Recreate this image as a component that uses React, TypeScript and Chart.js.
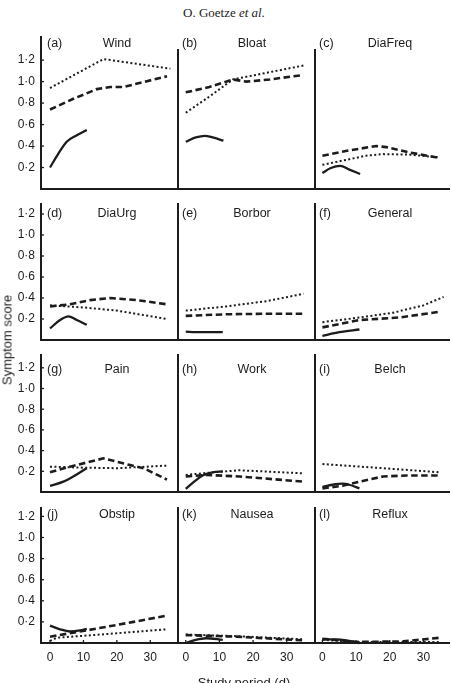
import React, { useEffect, useRef } from "react";
import { Chart, registerables } from "chart.js";

Chart.register(...registerables);

// ---------- labels & ticks ----------
const panelLetters = ["(a)", "(b)", "(c)", "(d)", "(e)", "(f)", "(g)", "(h)", "(i)", "(j)", "(k)", "(l)"];
const panelNames = ["Wind", "Bloat", "DiaFreq", "DiaUrg", "Borbor", "General", "Pain", "Work", "Belch", "Obstip", "Nausea", "Reflux"];
const yTickValues = [0.2, 0.4, 0.6, 0.8, 1.0, 1.2];
const yTickLabels = ["0·2", "0·4", "0·6", "0·8", "1·0", "1·2"];
const xTickValues = [0, 10, 20, 30];
const xTickLabels = ["0", "10", "20", "30"];
const yAxisTitle = "Symptom score";
const xAxisTitle = "Study period (d)";

// ---------- data: [study day, symptom score] ----------
const windSolid = [[0, 0.2], [2.5, 0.33], [5, 0.44], [8, 0.5], [11, 0.55]];
const windDashed = [[0, 0.74], [7, 0.84], [14, 0.93], [18, 0.95], [22, 0.95], [35, 1.05]];
const windDotted = [[0, 0.94], [16, 1.21], [36, 1.12]];

const bloatSolid = [[0, 0.44], [3, 0.48], [5.7, 0.495], [8, 0.48], [11.2, 0.45]];
const bloatDashed = [[0, 0.9], [7, 0.95], [14, 1.02], [18, 1.0], [25, 1.02], [34.5, 1.06]];
const bloatDotted = [[0, 0.71], [7, 0.86], [14, 1.02], [35, 1.15]];

const diaFreqSolid = [[0, 0.15], [2.5, 0.195], [5.3, 0.215], [8, 0.18], [11.2, 0.14]];
const diaFreqDashed = [[0, 0.31], [8, 0.36], [16, 0.4], [19, 0.39], [26, 0.34], [34.5, 0.29]];
const diaFreqDotted = [[0, 0.225], [13, 0.31], [18, 0.325], [26, 0.32], [34.5, 0.295]];

const diaUrgSolid = [[0, 0.11], [3, 0.19], [5.5, 0.225], [8, 0.19], [11, 0.145]];
const diaUrgDashed = [[0, 0.32], [6, 0.34], [12, 0.38], [18, 0.4], [26, 0.38], [35, 0.34]];
const diaUrgDotted = [[0, 0.33], [10, 0.31], [20, 0.28], [35, 0.2]];

const borborSolid = [[0, 0.08], [3, 0.075], [11, 0.075]];
const borborDashed = [[0, 0.23], [12, 0.245], [24, 0.25], [35, 0.25]];
const borborDotted = [[0, 0.28], [12, 0.32], [24, 0.37], [35, 0.44]];

const generalSolid = [[0, 0.04], [5, 0.075], [11, 0.1]];
const generalDashed = [[0, 0.12], [11, 0.19], [23, 0.215], [35, 0.27]];
const generalDotted = [[0, 0.17], [10, 0.21], [21, 0.26], [30, 0.33], [36, 0.41]];

const painSolid = [[0, 0.06], [4, 0.1], [8, 0.17], [11, 0.23]];
const painDashed = [[0, 0.19], [6, 0.245], [16, 0.325], [24, 0.26], [28, 0.23], [35, 0.12]];
const painDotted = [[0, 0.245], [10, 0.235], [20, 0.23], [35, 0.255]];

const workSolid = [[0, 0.03], [2.5, 0.1], [5, 0.16], [8, 0.19], [11, 0.2]];
const workDashed = [[0, 0.15], [6, 0.165], [16, 0.15], [35, 0.1]];
const workDotted = [[0, 0.165], [8, 0.19], [16, 0.21], [35, 0.18]];

const belchSolid = [[0, 0.05], [3, 0.07], [6, 0.08], [8, 0.07], [11, 0.035]];
const belchDashed = [[0, 0.035], [6, 0.06], [11, 0.1], [18, 0.15], [25, 0.16], [35, 0.16]];
const belchDotted = [[0, 0.27], [18, 0.23], [35, 0.19]];

const obstipSolid = [[0, 0.165], [3, 0.13], [6, 0.11], [9, 0.12], [11, 0.135]];
const obstipDashed = [[0, 0.06], [11, 0.12], [25, 0.2], [35, 0.26]];
const obstipDotted = [[0, 0.02], [2, 0.05], [15, 0.08], [35, 0.13]];

const nauseaSolid = [[0, 0], [3, 0.03], [6, 0.045], [11, 0.03]];
const nauseaDashed = [[0, 0.075], [15, 0.06], [35, 0.025]];
const nauseaDotted = [[0, 0.08], [15, 0.065], [35, 0.035]];

const refluxSolid = [[0, 0.035], [4, 0.035], [8, 0.02], [11, 0]];
const refluxDashed = [[0, 0.04], [10, 0.01], [24, 0.015], [35, 0.05]];
const refluxDotted = [[0, 0.03], [10, 0.01], [35, 0.01]];

const solidSeries = [windSolid, bloatSolid, diaFreqSolid, diaUrgSolid, borborSolid, generalSolid, painSolid, workSolid, belchSolid, obstipSolid, nauseaSolid, refluxSolid];
const dashedSeries = [windDashed, bloatDashed, diaFreqDashed, diaUrgDashed, borborDashed, generalDashed, painDashed, workDashed, belchDashed, obstipDashed, nauseaDashed, refluxDashed];
const dottedSeries = [windDotted, bloatDotted, diaFreqDotted, diaUrgDotted, borborDotted, generalDotted, painDotted, workDotted, belchDotted, obstipDotted, nauseaDotted, refluxDotted];

// ---------- layout ----------
const INK = "#1c1c1c";
const SANS = '"Liberation Sans", Arial, Helvetica, sans-serif';
const COLS = [
  { l: 41, r: 178, xmin: -2.7, xmax: 38.3, letterX: 47, nameX: 117 },
  { l: 178, r: 315, xmin: -2.3, xmax: 38.4, letterX: 182, nameX: 252 },
  { l: 315, r: 449, xmin: -2.2, xmax: 37.6, letterX: 319, nameX: 390 },
];
const ROWS = [
  { y0: 189, unit: 107.4, ymax: 1.29, ymaxFirst: 1.415, titleY: 43 },
  { y0: 340, unit: 105, ymax: 1.3, ymaxFirst: 1.3, titleY: 213 },
  { y0: 492, unit: 103.5, ymax: 1.32, ymaxFirst: 1.32, titleY: 369 },
  { y0: 643, unit: 105.5, ymax: 1.28, ymaxFirst: 1.28, titleY: 514 },
];

const innerTicks = {
  id: "innerTicks",
  afterDraw(chart: any, _args: any, opts: any) {
    const { ctx, chartArea, scales } = chart;
    ctx.save();
    ctx.strokeStyle = INK;
    ctx.lineWidth = 1.3;
    if (opts.y) {
      yTickValues.forEach((v) => {
        const py = scales.y.getPixelForValue(v);
        ctx.beginPath();
        ctx.moveTo(chartArea.left - 1, py);
        ctx.lineTo(chartArea.left + 3, py);
        ctx.stroke();
      });
    }
    if (opts.x) {
      xTickValues.forEach((v) => {
        const px = scales.x.getPixelForValue(v);
        ctx.beginPath();
        ctx.moveTo(px, chartArea.bottom);
        ctx.lineTo(px, chartArea.bottom - 3);
        ctx.stroke();
      });
    }
    ctx.restore();
  },
};

function toXY(s: number[][]) {
  return s.map(([x, y]) => ({ x, y }));
}

function Panel({ index }: { index: number }) {
  const ref = useRef<HTMLCanvasElement>(null);
  const r = Math.floor(index / 3);
  const c = index % 3;
  const col = COLS[c];
  const row = ROWS[r];
  const yAxisW = c === 0 ? 41 : 6;
  const padTop = 3;
  const padRight = 3;
  const xAxisH = r === 3 ? 30 : 3;
  const ymaxRaw = r === 0 && c === 0 ? row.ymaxFirst : row.ymax;
  const plotTop = Math.round(row.y0 - row.unit * ymaxRaw);
  const plotH = row.y0 - plotTop;
  const ymax = plotH / row.unit;
  const left = col.l - yAxisW;
  const top = plotTop - padTop;
  const w = yAxisW + (col.r - col.l) + padRight;
  const h = padTop + plotH + xAxisH;

  useEffect(() => {
    const chart = new Chart(ref.current as HTMLCanvasElement, {
      type: "line",
      data: {
        datasets: [
          {
            data: toXY(dottedSeries[index]),
            borderColor: INK,
            borderWidth: 2,
            borderDash: [2, 2.4],
            pointRadius: 0,
            tension: 0,
            fill: false,
            clip: 6,
          },
          {
            data: toXY(dashedSeries[index]),
            borderColor: INK,
            borderWidth: 2.6,
            borderDash: [6.5, 3.5],
            pointRadius: 0,
            tension: 0,
            fill: false,
            clip: 6,
          },
          {
            data: toXY(solidSeries[index]),
            borderColor: INK,
            borderWidth: 2.3,
            pointRadius: 0,
            cubicInterpolationMode: "monotone",
            fill: false,
            clip: 6,
          },
        ],
      } as any,
      options: {
        animation: false,
        responsive: false,
        maintainAspectRatio: false,
        devicePixelRatio: 1,
        events: [],
        layout: { padding: { top: padTop, right: padRight, left: 0, bottom: 0 } },
        plugins: {
          legend: { display: false },
          tooltip: { enabled: false },
          innerTicks: { x: r === 3, y: c === 0 },
        } as any,
        scales: {
          x: {
            type: "linear",
            min: col.xmin,
            max: col.xmax,
            grid: { display: false, drawTicks: false },
            border: { display: true, color: INK, width: 2 },
            ticks: {
              display: r === 3,
              autoSkip: false,
              padding: 7,
              color: INK,
              font: { family: SANS, size: 12 },
              callback: (_v: any, i: number) => xTickLabels[i],
            },
            afterBuildTicks: (s: any) => {
              s.ticks = xTickValues.map((v) => ({ value: v }));
            },
            afterFit: (s: any) => {
              s.height = xAxisH;
              s.paddingLeft = 0;
              s.paddingRight = 0;
            },
          },
          y: {
            type: "linear",
            min: 0,
            max: ymax,
            grid: { display: false, drawTicks: false },
            border: { display: true, color: INK, width: 2 },
            ticks: {
              display: c === 0,
              autoSkip: false,
              padding: 6,
              color: INK,
              font: { family: SANS, size: 12 },
              callback: (_v: any, i: number) => yTickLabels[i],
            },
            afterBuildTicks: (s: any) => {
              s.ticks = yTickValues.map((v) => ({ value: v }));
            },
            afterFit: (s: any) => {
              s.width = yAxisW;
              s.paddingTop = 0;
              s.paddingBottom = 0;
            },
          },
        } as any,
      },
      plugins: [innerTicks as any],
    });
    return () => chart.destroy();
  }, []);

  return (
    <canvas
      ref={ref}
      width={w}
      height={h}
      style={{ position: "absolute", left, top, width: w, height: h }}
    />
  );
}

const centered = (x: number, y: number, extra: any = {}) => ({
  position: "absolute" as const,
  left: x,
  top: y,
  transform: "translate(-50%, -50%)",
  whiteSpace: "nowrap" as const,
  ...extra,
});

export default function App() {
  const panels = panelNames.map((_, i) => i);
  return (
    <div
      style={{
        position: "absolute",
        left: 0,
        top: 0,
        width: 453,
        height: 683,
        overflow: "hidden",
        background: "#fff",
        color: INK,
        fontFamily: SANS,
      }}
    >
      <div style={centered(224, 13, { fontFamily: '"Liberation Serif", "Times New Roman", serif', fontSize: 13 })}>
        O. Goetze <i>et al.</i>
      </div>
      {panels.map((i) => (
        <Panel key={i} index={i} />
      ))}
      {panels.map((i) => {
        const r = Math.floor(i / 3);
        const c = i % 3;
        return (
          <React.Fragment key={"t" + i}>
            <div
              style={{
                position: "absolute",
                left: COLS[c].letterX,
                top: ROWS[r].titleY,
                transform: "translateY(-50%)",
                fontSize: 12.5,
                whiteSpace: "nowrap",
              }}
            >
              {panelLetters[i]}
            </div>
            <div style={centered(COLS[c].nameX, ROWS[r].titleY, { fontSize: 12.5 })}>{panelNames[i]}</div>
          </React.Fragment>
        );
      })}
      <div style={centered(7, 340, { fontSize: 13, transform: "translate(-50%, -50%) rotate(-90deg)" })}>
        {yAxisTitle}
      </div>
      <div style={centered(244, 682, { fontSize: 13 })}>{xAxisTitle}</div>
    </div>
  );
}
